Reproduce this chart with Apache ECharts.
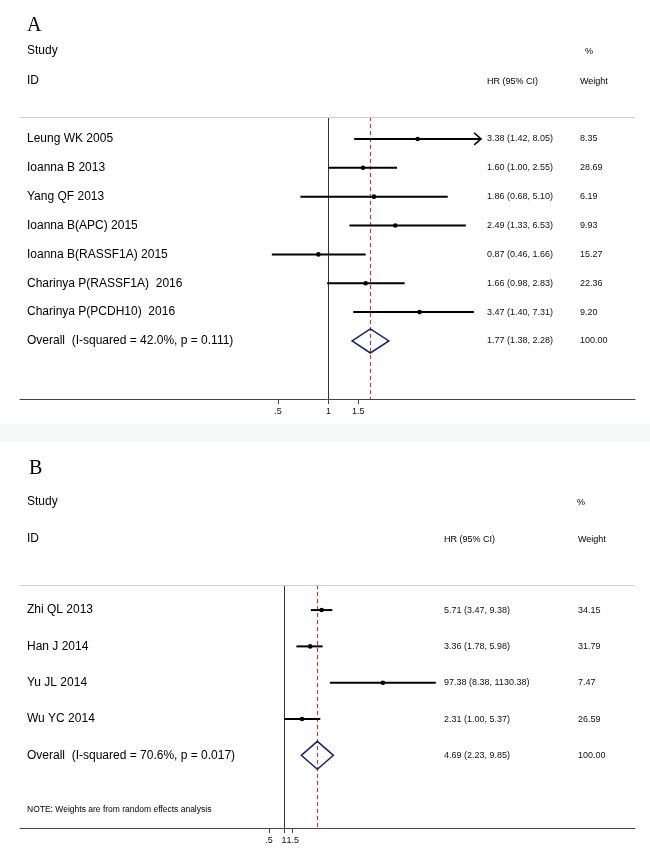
<!DOCTYPE html>
<html><head><meta charset="utf-8">
<script src="https://cdn.jsdelivr.net/npm/echarts@6/dist/echarts.min.js"></script>
<style>html,body{margin:0;padding:0;background:#fff}#c{width:650px;height:852px}</style>
</head><body><div id="c"></div>
<script>
// ---------- Panel A data ----------
const studiesA = ['Leung WK 2005','Ioanna B 2013','Yang QF 2013','Ioanna B(APC) 2015','Ioanna B(RASSF1A) 2015','Charinya P(RASSF1A)  2016','Charinya P(PCDH10)  2016'];
const hrA   = [3.38, 1.60, 1.86, 2.49, 0.87, 1.66, 3.47];
const lowA  = [1.42, 1.00, 0.68, 1.33, 0.46, 0.98, 1.40];
const highA = [8.05, 2.55, 5.10, 6.53, 1.66, 2.83, 7.31];
const weightA = ['8.35','28.69','6.19','9.93','15.27','22.36','9.20'];
const arrowA = [true, false, false, false, false, false, false];
const overallLabelA = 'Overall  (I-squared = 42.0%, p = 0.111)';
const overallA = [1.77, 1.38, 2.28];
const overallWeightA = '100.00';
const ticksA = [0.5, 1, 1.5];
const tickLabelsA = ['.5', '1', '1.5'];

// ---------- Panel B data ----------
const studiesB = ['Zhi QL 2013','Han J 2014','Yu JL 2014','Wu YC 2014'];
const hrB   = [5.71, 3.36, 97.38, 2.31];
const lowB  = [3.47, 1.78, 8.38, 1.00];
const highB = [9.38, 5.98, 1130.38, 5.37];
const weightB = ['34.15','31.79','7.47','26.59'];
const arrowB = [false, false, false, false];
const overallLabelB = 'Overall  (I-squared = 70.6%, p = 0.017)';
const overallB = [4.69, 2.23, 9.85];
const overallWeightB = '100.00';
const ticksB = [0.5, 1, 1.5];
const tickLabelsB = ['.5', '1', '1.5'];
const noteB = 'NOTE: Weights are from random effects analysis';

const FONT = "'Liberation Sans', Arial, sans-serif";
const fmt = v => v.toFixed(2);

function buildPanel(idx, studies, hr, low, high, weight, arrow, oLabel, overall, oWeight, ticks, tickLabels, cfg) {
  const n = studies.length;
  const rows = studies.map((s, i) => [Math.log(low[i]), Math.log(hr[i]), Math.log(high[i]), i, s, hr[i], low[i], high[i], weight[i], arrow[i] ? 1 : 0]);
  const oRow = [[Math.log(overall[1]), Math.log(overall[0]), Math.log(overall[2]), n, oLabel, overall[0], overall[1], overall[2], oWeight, 0]];
  const textItem = (params, api, label, hrv, lov, hiv, w) => {
    const y = api.coord([0, api.value(3)])[1];
    const x0 = params.coordSys.x;
    return [
      {type: 'text', style: {text: label, x: x0 + 7, y: y, fill: '#000', font: '12px ' + FONT, align: 'left', verticalAlign: 'middle'}},
      {type: 'text', style: {text: fmt(hrv) + ' (' + fmt(lov) + ', ' + fmt(hiv) + ')', x: x0 + cfg.hrX, y: y, fill: '#111', font: '9px ' + FONT, align: 'left', verticalAlign: 'middle'}},
      {type: 'text', style: {text: w, x: x0 + cfg.wX, y: y, fill: '#111', font: '9px ' + FONT, align: 'left', verticalAlign: 'middle'}}
    ];
  };
  const series = [
    {
      type: 'custom', xAxisIndex: idx, yAxisIndex: idx, clip: false, silent: true, z: 3,
      data: rows,
      renderItem: (params, api) => {
        const y = api.value(3);
        const lo = api.coord([api.value(0), y]);
        const mid = api.coord([api.value(1), y]);
        const hi = api.coord([api.value(2), y]);
        const d = rows[params.dataIndex];
        const children = [
          {type: 'line', shape: {x1: lo[0], y1: lo[1], x2: hi[0], y2: hi[1]}, style: {stroke: '#000', lineWidth: 2}},
          {type: 'circle', shape: {cx: mid[0], cy: mid[1], r: 2.3}, style: {fill: '#000'}}
        ].concat(textItem(params, api, d[4], d[5], d[6], d[7], d[8]));
        if (d[9]) {
          children.push({type: 'polyline', shape: {points: [[hi[0] - 7, hi[1] - 6], [hi[0], hi[1]], [hi[0] - 7, hi[1] + 6]]}, style: {stroke: '#000', lineWidth: 1.5, fill: null}});
        }
        return {type: 'group', children: children};
      },
      markLine: {
        silent: true, symbol: 'none', label: {show: false}, z: 1,
        data: [
          {xAxis: 0, lineStyle: {color: '#333', type: 'solid', width: 1}},
          {xAxis: Math.log(overall[0]), lineStyle: {color: '#b0404c', type: [4, 3], width: 1.2}},
          {yAxis: cfg.yMin, lineStyle: {color: '#cfcfcf', type: 'solid', width: 1}}
        ]
      }
    },
    {
      type: 'custom', xAxisIndex: idx, yAxisIndex: idx, clip: false, silent: true, z: 3,
      data: oRow,
      renderItem: (params, api) => {
        const y = api.value(3);
        const lo = api.coord([api.value(0), y]);
        const mid = api.coord([api.value(1), y]);
        const hi = api.coord([api.value(2), y]);
        const d = oRow[0];
        const h = cfg.dh;
        return {type: 'group', children: [
          {type: 'polygon', shape: {points: [[lo[0], lo[1]], [mid[0], mid[1] - h], [hi[0], hi[1]], [mid[0], mid[1] + h]]}, style: {stroke: '#1e2466', lineWidth: 1.5, fill: 'rgba(255,255,255,0)'}}
        ].concat(textItem(params, api, d[4], d[5], d[6], d[7], d[8]))};
      }
    }
  ];
  const tickVals = ticks.map(Math.log);
  const xAxis = {
    type: 'value', gridIndex: idx, min: cfg.xMin, max: cfg.xMax,
    splitLine: {show: false},
    axisLine: {show: true, onZero: false, lineStyle: {color: '#444', width: 1}},
    axisTick: {show: true, length: 5, customValues: tickVals, lineStyle: {color: '#444'}},
    axisLabel: {show: true, customValues: tickVals, fontSize: 9, color: '#111', fontFamily: FONT, margin: 8, hideOverlap: false,
      showMinLabel: true, showMaxLabel: true,
      formatter: v => { let b = 0; tickVals.forEach((t, k) => { if (Math.abs(t - v) < Math.abs(tickVals[b] - v)) b = k; }); return tickLabels[b]; }}
  };
  const yAxis = {type: 'value', gridIndex: idx, inverse: true, min: cfg.yMin, max: cfg.yMax, show: false, splitLine: {show: false}};
  return {series, xAxis, yAxis};
}

const pA = buildPanel(0, studiesA, hrA, lowA, highA, weightA, arrowA, overallLabelA, overallA, overallWeightA, ticksA, tickLabelsA,
  {hrX: 467, wX: 560, xMin: -4.22, xMax: 4.19, yMin: -0.76, yMax: 9.01, dh: 12});
const pB = buildPanel(1, studiesB, hrB, lowB, highB, weightB, arrowB, overallLabelB, overallB, overallWeightB, ticksB, tickLabelsB,
  {hrX: 424, wX: 558, xMin: -12.22, xMax: 16.25, yMin: -0.69, yMax: 6.0, dh: 14});

const hdr = (text, x, y, size, family) => ({type: 'text', left: x, top: y, style: {text: text, fill: '#000', font: size + 'px ' + (family || FONT)}});

const option = {
  backgroundColor: '#fff',
  animation: false,
  grid: [
    {left: 20, right: 15, top: 117, bottom: 453},
    {left: 20, right: 15, top: 585, bottom: 24}
  ],
  xAxis: [pA.xAxis, pB.xAxis],
  yAxis: [pA.yAxis, pB.yAxis],
  series: pA.series.concat(pB.series),
  graphic: [
    {type: 'rect', left: 0, top: 424, shape: {width: 650, height: 18}, style: {fill: '#f7fafa'}},
    hdr('A', 27, 16, 20, "'Liberation Serif', 'Times New Roman', serif"),
    hdr('Study', 27, 45, 12),
    hdr('ID', 27, 75, 12),
    hdr('%', 585, 47, 9),
    hdr('HR (95% CI)', 487, 77, 9),
    hdr('Weight', 580, 77, 9),
    hdr('B', 29, 459, 20, "'Liberation Serif', 'Times New Roman', serif"),
    hdr('Study', 27, 496, 12),
    hdr('ID', 27, 533, 12),
    hdr('%', 577, 498, 9),
    hdr('HR (95% CI)', 444, 535, 9),
    hdr('Weight', 578, 535, 9),
    hdr(noteB, 27, 805, 8.5)
  ]
};
echarts.init(document.getElementById('c'), null, {renderer: 'canvas'}).setOption(option);
</script>
</body></html>
